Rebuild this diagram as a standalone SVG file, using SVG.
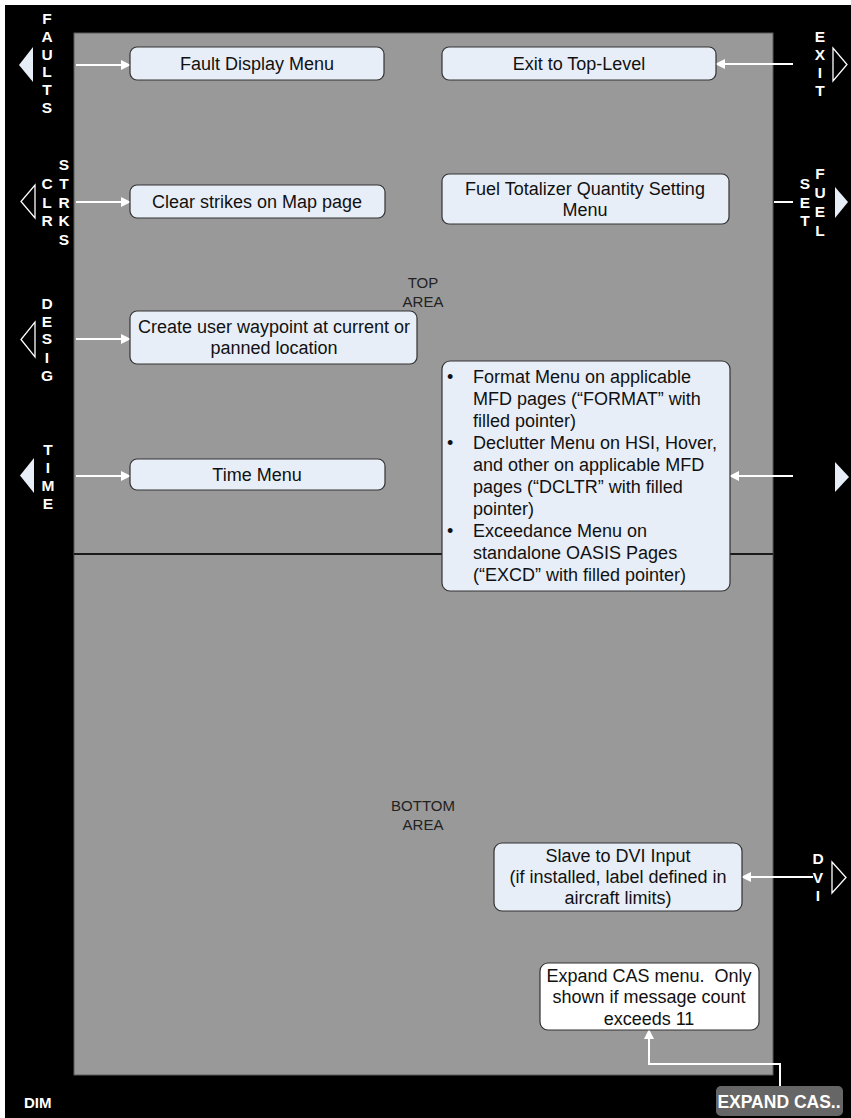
<svg xmlns="http://www.w3.org/2000/svg" width="851" height="1118" viewBox="0 0 851 1118">
<defs>
<marker id="ah" markerWidth="10" markerHeight="10" refX="9" refY="5" orient="auto" markerUnits="userSpaceOnUse">
<path d="M0,0 L10,5 L0,10 Z" fill="#ffffff"/>
</marker>
<style>
.box{fill:#e8eef8;stroke:#333333;stroke-width:1.2}
.wbox{fill:#ffffff;stroke:#333333;stroke-width:1.2}
.t{font-family:"Liberation Sans",Arial,sans-serif;font-size:18px;fill:#111111;white-space:pre}
.c{text-anchor:middle}
.lbl{font-family:"Liberation Sans",Arial,sans-serif;font-size:15.5px;font-weight:bold;fill:#ffffff;text-anchor:middle}
.area{font-family:"Liberation Sans",Arial,sans-serif;font-size:15px;fill:#222222;text-anchor:middle}
.conn{stroke:#ffffff;stroke-width:2;fill:none}
.tf{fill:#e8eef8}
.to{fill:none;stroke:#ffffff;stroke-width:1.3}
</style>
</defs>
<rect x="0" y="0" width="851" height="1118" fill="#ffffff"/>
<rect x="5" y="5" width="846" height="1113" fill="#000000"/>
<rect x="74" y="33" width="699" height="1042" fill="#999999" stroke="#5a5a5a" stroke-width="1"/>
<line x1="74" y1="554" x2="773" y2="554" stroke="#1a1a1a" stroke-width="2"/>

<g id="labels">
<text class="area" x="423" y="288">TOP</text>
<text class="area" x="423" y="307">AREA</text>
<text class="area" x="423" y="811">BOTTOM</text>
<text class="area" x="423" y="830">AREA</text>
</g>

<g id="bezel-faults">
<polygon class="tf" points="33,47 33,82 19,65"/>
<text class="lbl" x="47" y="24">F</text><text class="lbl" x="47" y="42">A</text><text class="lbl" x="47" y="60">U</text><text class="lbl" x="47" y="77">L</text><text class="lbl" x="47" y="95">T</text><text class="lbl" x="47" y="113">S</text>
</g>
<g id="bezel-exit">
<polygon class="to" points="833,48 833,81 847,64.5"/>
<text class="lbl" x="820" y="42">E</text><text class="lbl" x="820" y="60">X</text><text class="lbl" x="820" y="78">I</text><text class="lbl" x="820" y="96">T</text>
</g>
<g id="bezel-clr">
<polygon class="to" points="35,185 35,218 21,201.5"/>
<text class="lbl" x="47" y="189">C</text><text class="lbl" x="47" y="208">L</text><text class="lbl" x="47" y="226">R</text>
<text class="lbl" x="64" y="170">S</text><text class="lbl" x="64" y="189">T</text><text class="lbl" x="64" y="208">R</text><text class="lbl" x="64" y="226">K</text><text class="lbl" x="64" y="245">S</text>
</g>
<g id="bezel-setfuel">
<polygon class="tf" points="835,187 835,218 848,202"/>
<text class="lbl" x="805" y="189">S</text><text class="lbl" x="805" y="208">E</text><text class="lbl" x="805" y="226">T</text>
<text class="lbl" x="820" y="179">F</text><text class="lbl" x="820" y="198">U</text><text class="lbl" x="820" y="217">E</text><text class="lbl" x="820" y="236">L</text>
</g>
<g id="bezel-desig">
<polygon class="to" points="35,322 35,357 21,339.5"/>
<text class="lbl" x="47" y="309">D</text><text class="lbl" x="47" y="327">E</text><text class="lbl" x="47" y="344">S</text><text class="lbl" x="47" y="363">I</text><text class="lbl" x="47" y="381">G</text>
</g>
<g id="bezel-time">
<polygon class="tf" points="34,458 34,493 20,475.5"/>
<text class="lbl" x="48" y="455">T</text><text class="lbl" x="48" y="473">I</text><text class="lbl" x="48" y="491">M</text><text class="lbl" x="48" y="509">E</text>
</g>
<g id="bezel-right-mid">
<polygon class="tf" points="835,462 835,492 849,477"/>
</g>
<g id="bezel-dvi">
<polygon class="to" points="832,862 832,893 846,877.5"/>
<text class="lbl" x="818" y="864">D</text><text class="lbl" x="818" y="883">V</text><text class="lbl" x="818" y="901">I</text>
</g>
<g id="bezel-dim">
<text x="24" y="1108" font-family="Liberation Sans,Arial,sans-serif" font-size="15" font-weight="bold" fill="#ffffff">DIM</text>
</g>
<g id="btn-expand-cas">
<rect x="716" y="1086" width="127" height="30" rx="5" fill="#666666"/>
<text x="779" y="1108" font-family="Liberation Sans,Arial,sans-serif" font-size="17.5" font-weight="bold" fill="#ffffff" text-anchor="middle">EXPAND CAS..</text>
</g>

<g id="connectors">
<line class="conn" x1="76" y1="65" x2="130" y2="65" marker-end="url(#ah)"/>
<line class="conn" x1="793" y1="64" x2="716" y2="64" marker-end="url(#ah)"/>
<line class="conn" x1="76" y1="202" x2="130" y2="202" marker-end="url(#ah)"/>
<line class="conn" x1="793" y1="202" x2="774" y2="202"/>
<line class="conn" x1="76" y1="339" x2="130" y2="339" marker-end="url(#ah)"/>
<line class="conn" x1="76" y1="476" x2="130" y2="476" marker-end="url(#ah)"/>
<line class="conn" x1="793" y1="476" x2="730" y2="476" marker-end="url(#ah)"/>
<line class="conn" x1="813" y1="877" x2="742" y2="877" marker-end="url(#ah)"/>
<polyline class="conn" points="780,1086 780,1064 649,1064 649,1030" marker-end="url(#ah)"/>
</g>

<g id="n-fault">
<rect class="box" x="130" y="47" width="254" height="33" rx="7"/>
<text class="t c" x="257" y="70">Fault Display Menu</text>
</g>
<g id="n-exit">
<rect class="box" x="442" y="47" width="274" height="33" rx="7"/>
<text class="t c" x="579" y="70">Exit to Top-Level</text>
</g>
<g id="n-clear">
<rect class="box" x="130" y="185" width="255" height="33" rx="7"/>
<text class="t c" x="257" y="208">Clear strikes on Map page</text>
</g>
<g id="n-fuel">
<rect class="box" x="442" y="174" width="287" height="50" rx="7"/>
<text class="t c" x="585" y="195">Fuel Totalizer Quantity Setting</text>
<text class="t c" x="585" y="216">Menu</text>
</g>
<g id="n-waypoint">
<rect class="box" x="130" y="311" width="287" height="53" rx="7"/>
<text class="t c" x="274" y="333">Create user waypoint at current or</text>
<text class="t c" x="274" y="354">panned location</text>
</g>
<g id="n-time">
<rect class="box" x="130" y="459" width="255" height="31" rx="7"/>
<text class="t c" x="257" y="481">Time Menu</text>
</g>
<g id="n-format">
<rect class="box" x="442" y="361" width="288" height="230" rx="8"/>
<text class="t" x="447" y="383">•</text>
<text class="t" x="473" y="383">Format Menu on applicable</text>
<text class="t" x="473" y="405">MFD pages (“FORMAT” with</text>
<text class="t" x="473" y="427">filled pointer)</text>
<text class="t" x="447" y="449">•</text>
<text class="t" x="473" y="449">Declutter Menu on HSI, Hover,</text>
<text class="t" x="473" y="471">and other on applicable MFD</text>
<text class="t" x="473" y="493">pages (“DCLTR” with filled</text>
<text class="t" x="473" y="515">pointer)</text>
<text class="t" x="447" y="537">•</text>
<text class="t" x="473" y="537">Exceedance Menu on</text>
<text class="t" x="473" y="559">standalone OASIS Pages</text>
<text class="t" x="473" y="581">(“EXCD” with filled pointer)</text>
</g>
<g id="n-dvi">
<rect class="box" x="494" y="843" width="248" height="68" rx="8"/>
<text class="t c" x="618" y="862">Slave to DVI Input</text>
<text class="t c" x="618" y="883">(if installed, label defined in</text>
<text class="t c" x="618" y="904">aircraft limits)</text>
</g>
<g id="n-cas">
<rect class="wbox" x="540" y="963" width="219" height="67" rx="8"/>
<text class="t c" x="649" y="982" xml:space="preserve">Expand CAS menu.  Only</text>
<text class="t c" x="649" y="1003">shown if message count</text>
<text class="t c" x="649" y="1025">exceeds 11</text>
</g>
</svg>
